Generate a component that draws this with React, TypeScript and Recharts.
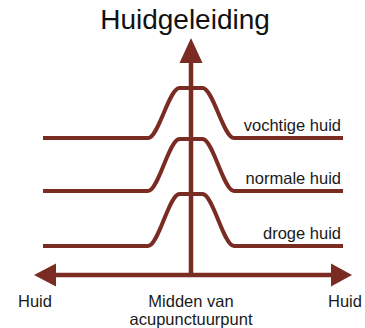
import React from 'react';
import { LineChart, Line, XAxis, YAxis, ReferenceLine, LabelList } from 'recharts';

// schematic: distance from centre of the acupuncture point vs. skin conductance
const xPositions = [-14.8, -4.3, -1.15, 1.15, 4.3, 15.2];
const drogeHuid = [2.9, 2.9, 8.1, 8.1, 2.9, 2.9];
const normaleHuid = [8.4, 8.4, 13.6, 13.6, 8.4, 8.4];
const vochtigeHuid = [13.7, 13.7, 18.7, 18.7, 13.7, 13.7];

const seriesNames = ['droge huid', 'normale huid', 'vochtige huid'];
const xTicks = [-15.6, 0, 15.4];
const xTickLabels = [['Huid'], ['Midden van', 'acupunctuurpunt'], ['Huid']];

const xDomain = [-15.7, 16.1];
const yDomain = [0, 23.7];

const data = xPositions.map((x, i) => ({
  x,
  droge: drogeHuid[i],
  normale: normaleHuid[i],
  vochtige: vochtigeHuid[i],
}));

const BROWN = '#7a2b22';
const FONT = '"Liberation Sans", Arial, sans-serif';

const VerticalArrow = (props: any) => {
  const { x1, y1, y2 } = props;
  const top = Math.min(y1, y2);
  const bottom = Math.max(y1, y2);
  return (
    <g>
      <line x1={x1} x2={x1} y1={top + 20} y2={bottom} stroke={BROWN} strokeWidth={4.5} />
      <polygon points={`${x1},${top} ${x1 - 11.5},${top + 25} ${x1 + 11.5},${top + 25}`} fill={BROWN} />
    </g>
  );
};

const HorizontalArrow = (props: any) => {
  const { x1, x2, y1 } = props;
  const left = Math.min(x1, x2);
  const right = Math.max(x1, x2);
  return (
    <g>
      <line x1={left + 18} x2={right - 18} y1={y1} y2={y1} stroke={BROWN} strokeWidth={4.5} />
      <polygon points={`${left},${y1} ${left + 22},${y1 - 11.5} ${left + 22},${y1 + 11.5}`} fill={BROWN} />
      <polygon points={`${right},${y1} ${right - 21},${y1 - 11.5} ${right - 21},${y1 + 11.5}`} fill={BROWN} />
    </g>
  );
};

const BottomTick = (props: any) => {
  const { x, y, index } = props;
  const lines = xTickLabels[index] || [];
  return (
    <text x={x} y={y} textAnchor="middle" fontFamily={FONT} fontSize={16.5} fill="#1a1a1a">
      {lines.map((t, i) => (
        <tspan key={i} x={x} dy={i === 0 ? 32 : 18}>
          {t}
        </tspan>
      ))}
    </text>
  );
};

const endLabel = (name: string) => (props: any) => {
  const { x, y, index } = props;
  if (index !== xPositions.length - 1) return null;
  return (
    <text x={x - 2} y={y - 7.5} textAnchor="end" fontFamily={FONT} fontSize={16.5} fill="#1a1a1a">
      {name}
    </text>
  );
};

const App: React.FC = () => {
  return (
    <div style={{ position: 'absolute', left: 0, top: 0, width: 365, height: 328, background: '#fff' }}>
      <LineChart width={365} height={328} data={data} margin={{ top: 38, right: 13, bottom: 0, left: 34 }}>
        <text x={185} y={29} textAnchor="middle" fontFamily={FONT} fontSize={28} fill="#111">
          Huidgeleiding
        </text>
        <XAxis
          dataKey="x"
          type="number"
          domain={xDomain}
          ticks={xTicks}
          interval={0}
          height={53}
          axisLine={false}
          tickLine={false}
          tickSize={0}
          tickMargin={0}
          tick={<BottomTick />}
        />
        <YAxis type="number" domain={yDomain} hide />
        <Line type="monotone" dataKey="droge" stroke={BROWN} strokeWidth={4} dot={false} isAnimationActive={false}>
          <LabelList content={endLabel(seriesNames[0])} />
        </Line>
        <Line type="monotone" dataKey="normale" stroke={BROWN} strokeWidth={4} dot={false} isAnimationActive={false}>
          <LabelList content={endLabel(seriesNames[1])} />
        </Line>
        <Line type="monotone" dataKey="vochtige" stroke={BROWN} strokeWidth={4} dot={false} isAnimationActive={false}>
          <LabelList content={endLabel(seriesNames[2])} />
        </Line>
        <ReferenceLine x={0} shape={<VerticalArrow />} />
        <ReferenceLine y={0} shape={<HorizontalArrow />} />
      </LineChart>
    </div>
  );
};

export default App;
